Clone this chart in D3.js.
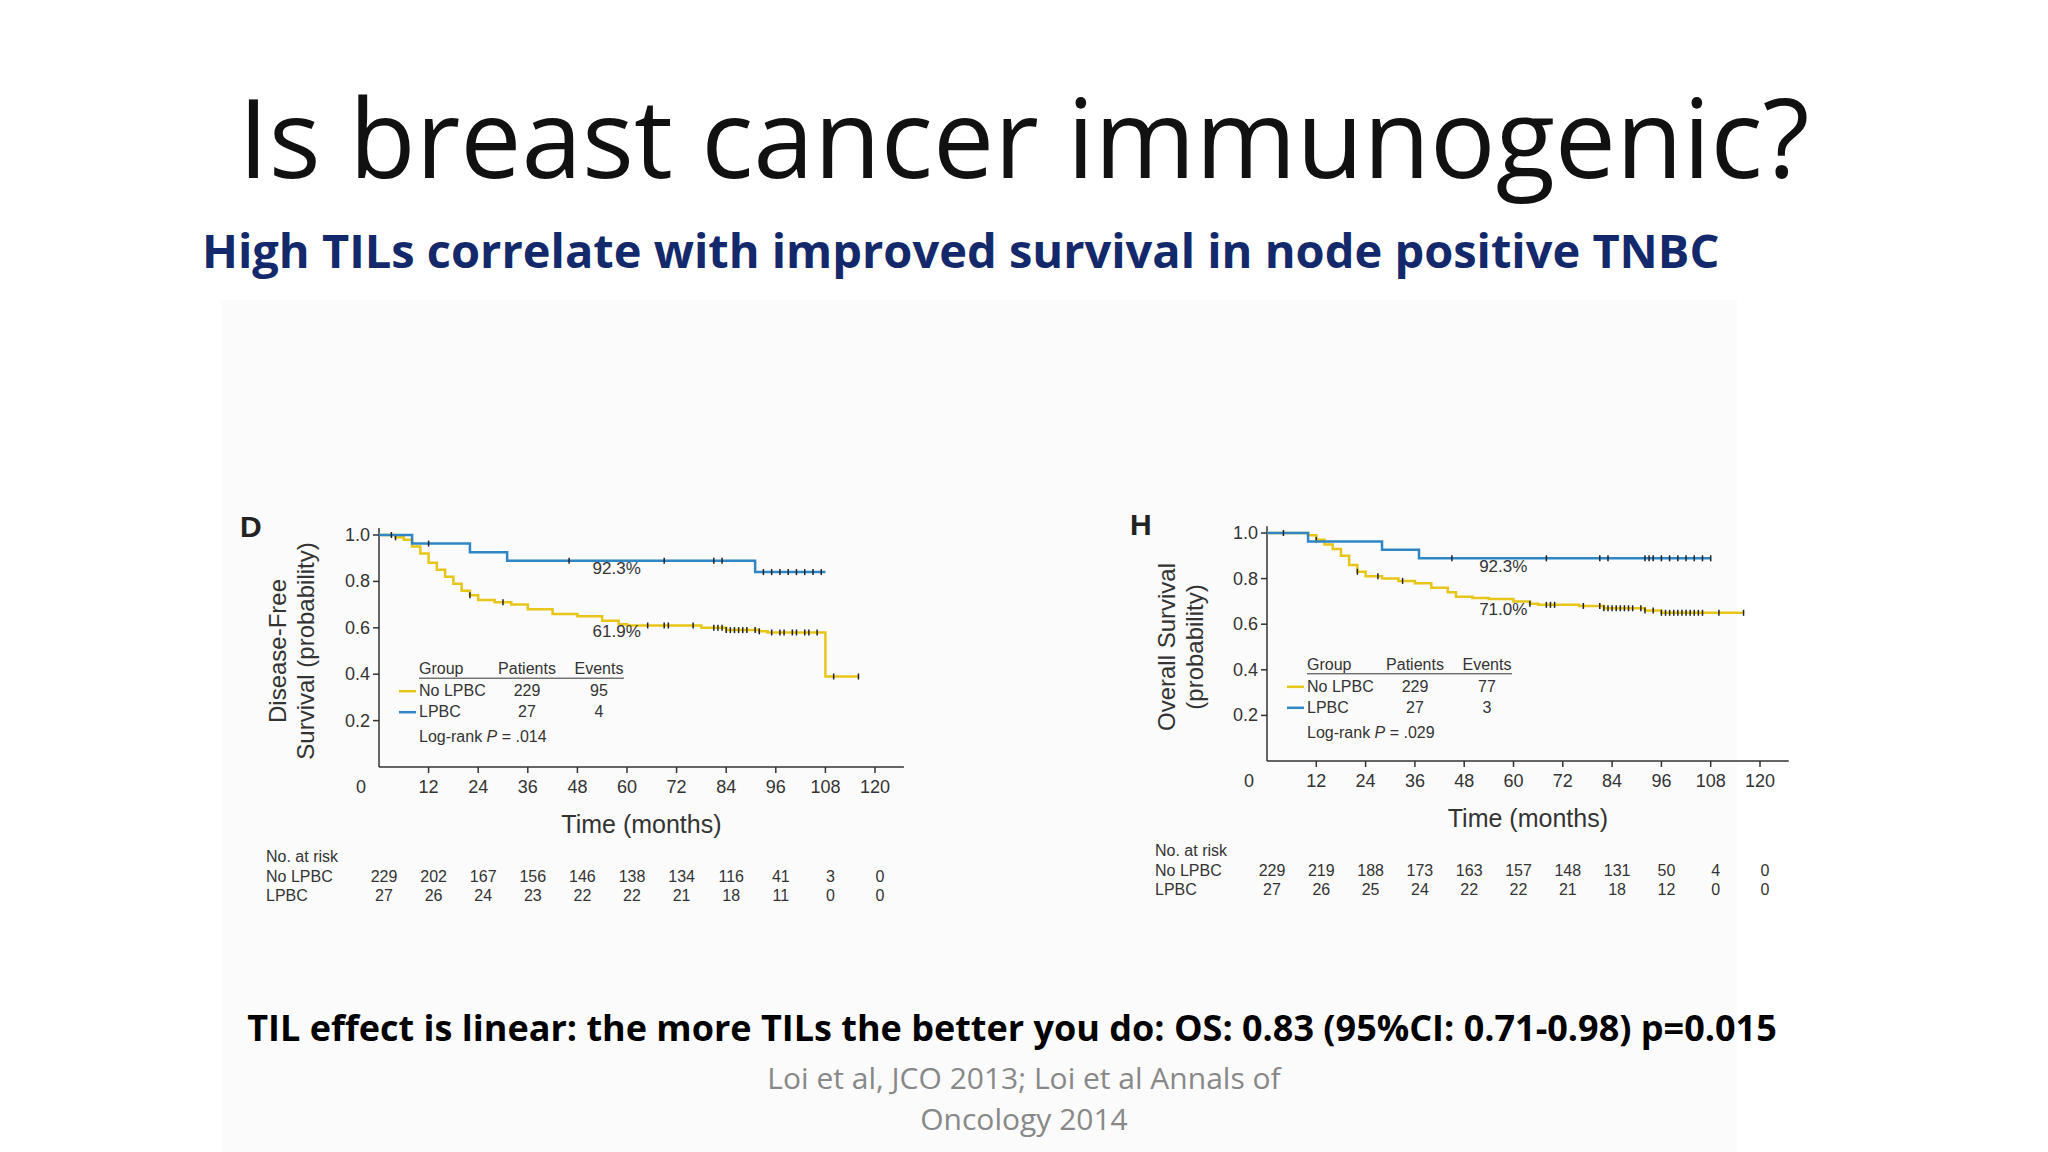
<!DOCTYPE html>
<html>
<head>
<meta charset="utf-8">
<script src="https://cdn.jsdelivr.net/npm/d3@7"></script>
<style>
  body { margin: 0; background: #fff; }
  svg text { font-family: "Liberation Sans Narrow", "Liberation Sans", sans-serif; }
</style>
</head>
<body>
<svg id="chart" width="2048" height="1152"></svg>
<script>
// x ticks and risk table time points
const months = [0, 12, 24, 36, 48, 60, 72, 84, 96, 108, 120];
const yTicks = [0.2, 0.4, 0.6, 0.8, 1.0];

// Panel D: disease-free survival (month, probability) step points
const dfsNoLpbc = [[0,1],[4,0.99],[6,0.98],[8,0.95],[10,0.92],[12,0.88],[14,0.85],[16,0.82],[18,0.79],[20,0.76],[22,0.74],[24,0.72],[28,0.71],[32,0.70],[36,0.68],[42,0.66],[48,0.65],[54,0.63],[58,0.615],[60,0.61],[78,0.60],[84,0.59],[92,0.585],[94,0.58],[108,0.39],[116,0.39]];
const dfsLpbc = [[0,1],[8,0.963],[22,0.926],[31,0.889],[91,0.84],[108,0.84]];
const dfsCensorNo = [4,22,30,65,69,70,76,81,82,83,84,85,86,87,88,89,91,92,95,97,98,100,101,103,104,106,110,116];
const dfsCensorL = [3,12,46,69,81,83,93,95,97,99,101,103,105,107];
const dfsRiskNo = [229, 202, 167, 156, 146, 138, 134, 116, 41, 3, 0];
const dfsRiskL = [27, 26, 24, 23, 22, 22, 21, 18, 11, 0, 0];

// Panel H: overall survival
const osNoLpbc = [[0,1],[10,0.99],[12,0.97],[14,0.95],[16,0.93],[18,0.90],[20,0.86],[22,0.83],[24,0.81],[28,0.80],[32,0.79],[36,0.78],[40,0.76],[44,0.74],[46,0.72],[50,0.715],[54,0.71],[60,0.70],[64,0.69],[66,0.685],[76,0.68],[82,0.67],[92,0.66],[96,0.65],[116,0.65]];
const osLpbc = [[0,1],[10,0.963],[28,0.926],[37,0.889],[108,0.889]];
const osCensorNo = [12,22,27,33,64,68,69,70,77,81,82,83,84,85,86,87,88,89,91,92,94,96,97,98,99,100,101,102,103,104,105,106,110,116];
const osCensorL = [4,45,68,81,83,92,93,94,96,98,100,102,104,106,108];
const osRiskNo = [229, 219, 188, 173, 163, 157, 148, 131, 50, 4, 0];
const osRiskL = [27, 26, 25, 24, 22, 22, 21, 18, 12, 0, 0];

const yellow = "#e8c619", blue = "#2f86c6";
const svg = d3.select("#chart");

svg.append("rect").attr("x", 222).attr("y", 300).attr("width", 1515).attr("height", 852).attr("fill", "#fbfbfb");

svg.append("text").attr("x", 1024).attr("y", 178).attr("text-anchor", "middle")
  .style("font-family", "'Open Sans', sans-serif").style("font-size", "109px").attr("fill", "#111")
  .text("Is breast cancer immunogenic?");
svg.append("text").attr("x", 202).attr("y", 268)
  .style("font-family", "'Open Sans', sans-serif").style("font-size", "47px").style("font-weight", "bold").attr("fill", "#13296b")
  .text("High TILs correlate with improved survival in node positive TNBC");
svg.append("text").attr("x", 1012).attr("y", 1041).attr("text-anchor", "middle")
  .style("font-family", "'Open Sans', sans-serif").style("font-size", "36px").style("font-weight", "bold").attr("fill", "#000")
  .text("TIL effect is linear: the more TILs the better you do: OS: 0.83 (95%CI: 0.71-0.98) p=0.015");
[["Loi et al, JCO 2013; Loi et al Annals of", 1089], ["Oncology 2014", 1130]].forEach(([t, y]) => {
  svg.append("text").attr("x", 1024).attr("y", y).attr("text-anchor", "middle")
    .style("font-family", "'Open Sans', sans-serif").style("font-size", "30px").attr("fill", "#888").text(t);
});

function drawPanel(p) {
  const x = d3.scaleLinear().domain([0, 120]).range([p.x0, p.x120]);
  const y = d3.scaleLinear().domain([0, 1]).range([p.y0, p.y1]);
  const g = svg.append("g");
  const ink = "#333";

  g.append("text").attr("x", p.letterX).attr("y", p.y1 + 2).style("font-size", "30px").style("font-weight", "bold")
    .style("font-family", "'Liberation Sans', sans-serif").attr("fill", "#222").text(p.letter);

  // axes
  g.append("line").attr("x1", x(0)).attr("x2", x(0)).attr("y1", y(1.03)).attr("y2", y(0)).attr("stroke", ink).attr("stroke-width", 1.5);
  g.append("line").attr("x1", x(0)).attr("x2", x(127)).attr("y1", y(0)).attr("y2", y(0)).attr("stroke", ink).attr("stroke-width", 1.5);
  yTicks.forEach(t => {
    g.append("line").attr("x1", x(0) - 6).attr("x2", x(0)).attr("y1", y(t)).attr("y2", y(t)).attr("stroke", ink).attr("stroke-width", 1.5);
    g.append("text").attr("x", x(0) - 9).attr("y", y(t) + 6).attr("text-anchor", "end").style("font-size", "18px").attr("fill", ink).text(t.toFixed(1));
  });
  months.forEach(m => {
    if (m > 0) g.append("line").attr("x1", x(m)).attr("x2", x(m)).attr("y1", y(0)).attr("y2", y(0) + 6).attr("stroke", ink).attr("stroke-width", 1.5);
    g.append("text").attr("x", m === 0 ? x(0) - 18 : x(m)).attr("y", y(0) + 26).attr("text-anchor", "middle")
      .style("font-size", "18px").attr("fill", ink).text(m);
  });
  g.append("text").attr("x", (x(0) + x(127)) / 2).attr("y", p.y0 + 66).attr("text-anchor", "middle")
    .style("font-size", "25px").attr("fill", ink).text("Time (months)");
  p.yTitle.forEach((t, i) => {
    const cx = p.yTitleX + i * 28, cy = (y(0) + y(1)) / 2;
    g.append("text").attr("transform", `translate(${cx},${cy}) rotate(-90)`).attr("text-anchor", "middle")
      .style("font-size", "24px").attr("fill", ink).text(t);
  });

  // curves
  const line = d3.line().curve(d3.curveStepAfter).x(d => x(d[0])).y(d => y(d[1]));
  const stepAt = (data, m) => { let v = data[0][1]; data.forEach(d => { if (d[0] <= m) v = d[1]; }); return v; };
  [[p.no, yellow, p.censorNo], [p.lp, blue, p.censorL]].forEach(([data, col, cens]) => {
    g.append("path").datum(data).attr("d", line).attr("fill", "none").attr("stroke", col).attr("stroke-width", 2.5);
    cens.forEach(m => {
      const v = stepAt(data, m);
      g.append("line").attr("x1", x(m)).attr("x2", x(m)).attr("y1", y(v) - 3).attr("y2", y(v) + 3).attr("stroke", "#222").attr("stroke-width", 1.5);
    });
  });
  p.labels.forEach(([t, v]) => {
    g.append("text").attr("x", x(57.5)).attr("y", y(v)).attr("text-anchor", "middle").style("font-size", "17px").attr("fill", ink).text(t);
  });

  // legend
  const lx = x(0) + 40, ly = y(0.4);
  const cols = [[lx, "start", "Group"], [lx + 108, "middle", "Patients"], [lx + 180, "middle", "Events"]];
  cols.forEach(([cx, a, t]) => g.append("text").attr("x", cx).attr("y", ly).attr("text-anchor", a).style("font-size", "16px").attr("fill", ink).text(t));
  g.append("line").attr("x1", lx).attr("x2", lx + 205).attr("y1", ly + 4).attr("y2", ly + 4).attr("stroke", ink);
  p.legend.forEach(([name, n, ev, col], i) => {
    const ry = ly + 22 + i * 21;
    g.append("line").attr("x1", lx - 20).attr("x2", lx - 3).attr("y1", ry - 5).attr("y2", ry - 5).attr("stroke", col).attr("stroke-width", 2.5);
    g.append("text").attr("x", lx).attr("y", ry).style("font-size", "16px").attr("fill", ink).text(name);
    g.append("text").attr("x", lx + 108).attr("y", ry).attr("text-anchor", "middle").style("font-size", "16px").attr("fill", ink).text(n);
    g.append("text").attr("x", lx + 180).attr("y", ry).attr("text-anchor", "middle").style("font-size", "16px").attr("fill", ink).text(ev);
  });
  const lr = g.append("text").attr("x", lx).attr("y", ly + 68).style("font-size", "16px").attr("fill", ink);
  lr.append("tspan").text("Log-rank ");
  lr.append("tspan").style("font-style", "italic").text("P");
  lr.append("tspan").text(" = " + p.pval);

  // number at risk
  const rx = p.riskX, ry0 = p.y0 + 95;
  g.append("text").attr("x", rx).attr("y", ry0).style("font-size", "16px").attr("fill", ink).text("No. at risk");
  [["No LPBC", p.riskNo], ["LPBC", p.riskL]].forEach(([name, vals], i) => {
    const ry = ry0 + 20 + i * 19;
    g.append("text").attr("x", rx).attr("y", ry).style("font-size", "16px").attr("fill", ink).text(name);
    vals.forEach((v, j) => g.append("text").attr("x", x(months[j]) + 5).attr("y", ry).attr("text-anchor", "middle")
      .style("font-size", "16px").attr("fill", ink).text(v));
  });
}

drawPanel({ letter: "D", letterX: 240, x0: 379, x120: 875, y0: 767, y1: 535, yTitleX: 286, riskX: 266,
  yTitle: ["Disease-Free", "Survival (probability)"],
  no: dfsNoLpbc, lp: dfsLpbc, censorNo: dfsCensorNo, censorL: dfsCensorL,
  labels: [["92.3%", 0.83], ["61.9%", 0.56]],
  legend: [["No LPBC", 229, 95, yellow], ["LPBC", 27, 4, blue]], pval: ".014",
  riskNo: dfsRiskNo, riskL: dfsRiskL });

drawPanel({ letter: "H", letterX: 1130, x0: 1267, x120: 1760, y0: 761, y1: 533, yTitleX: 1175, riskX: 1155,
  yTitle: ["Overall Survival", "(probability)"],
  no: osNoLpbc, lp: osLpbc, censorNo: osCensorNo, censorL: osCensorL,
  labels: [["92.3%", 0.83], ["71.0%", 0.64]],
  legend: [["No LPBC", 229, 77, yellow], ["LPBC", 27, 3, blue]], pval: ".029",
  riskNo: osRiskNo, riskL: osRiskL });
</script>
</body>
</html>
